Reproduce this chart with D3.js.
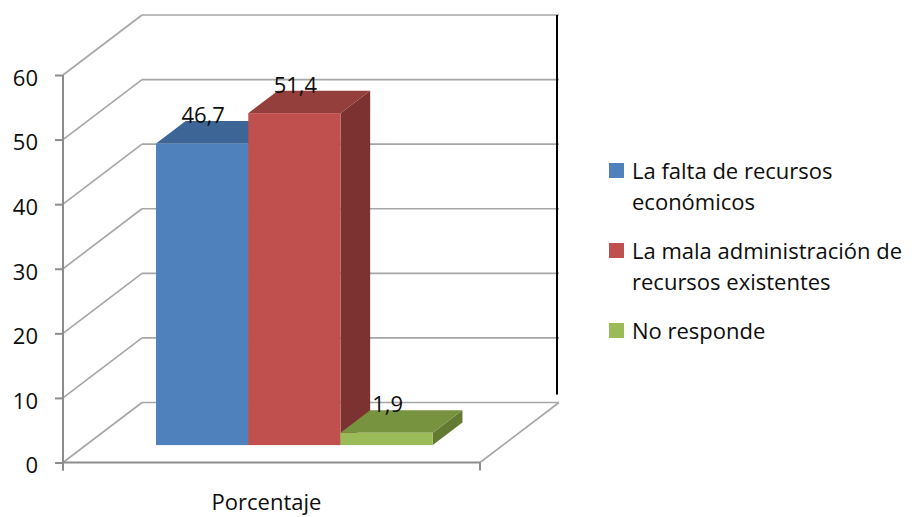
<!DOCTYPE html>
<html><head><meta charset="utf-8">
<script src="https://cdn.jsdelivr.net/npm/d3@7/dist/d3.min.js"></script>
<style>body{margin:0;background:#fff}svg{display:block}text{font-family:"Open Sans",sans-serif}</style>
</head><body><svg id="c" width="916" height="517"></svg>
<script>
const categories = ["Porcentaje"];
const seriesNames = ["La falta de recursos económicos", "La mala administración de recursos existentes", "No responde"];
const values = [46.7, 51.4, 1.9];
const valueLabels = ["46,7", "51,4", "1,9"];
const yTicks = [0, 10, 20, 30, 40, 50, 60];
const legendLines = [["La falta de recursos", "económicos"], ["La mala administración de", "recursos existentes"], ["No responde"]];
const frontColors = ["#4F81BD", "#C0504D", "#9BBB59"];
const topColors = ["#3D6697", "#953F3C", "#78933F"];
const sideColors = ["#335580", "#7B3230", "#637A33"];

const FS = 22, TXT = "#0d0d0d";
const svg = d3.select("#c");
const x0 = 63, x1 = 480;
const D = {x: 79, y: -60};           // floor depth vector
const f1 = 0.29, f2 = 0.665;         // bar depth span (fraction of floor depth)
const y = d3.scaleLinear().domain([0, 60]).range([462.5, 75]);
const xc = d3.scaleBand().domain(categories).range([x0, x1]);
const xs = d3.scaleBand().domain(seriesNames).range([x0, x1]).paddingInner(0).paddingOuter(0.76);

const grid = "#A6A6A6", axisC = "#8C8C8C";
const g = svg.append("g");

// walls gridlines
yTicks.forEach(v => {
  g.append("line").attr("x1", x0).attr("y1", y(v)).attr("x2", x0 + D.x).attr("y2", y(v) + D.y)
    .attr("stroke", grid).attr("stroke-width", 1.6);
  g.append("line").attr("x1", x0 + D.x).attr("y1", y(v) + D.y).attr("x2", x1 + D.x).attr("y2", y(v) + D.y)
    .attr("stroke", grid).attr("stroke-width", 1.6);
});
// floor front and right edges
g.append("line").attr("x1", x0).attr("y1", y(0)).attr("x2", x1).attr("y2", y(0)).attr("stroke", axisC).attr("stroke-width", 2);
g.append("line").attr("x1", x1).attr("y1", y(0)).attr("x2", x1 + D.x).attr("y2", y(0) + D.y).attr("stroke", grid).attr("stroke-width", 1.6);
// black right edge of back wall
g.append("line").attr("x1", x1 + D.x - 2).attr("y1", y(60) + D.y).attr("x2", x1 + D.x - 2).attr("y2", y(0) + D.y - 8)
  .attr("stroke", "#000").attr("stroke-width", 2);

// left axis
const ax = d3.axisLeft(y).tickValues(yTicks).tickSize(8).tickPadding(17).tickSizeOuter(0);
const axG = svg.append("g").attr("transform", `translate(${x0},0)`).call(ax);
axG.select(".domain").remove();
axG.selectAll(".tick line").attr("stroke", axisC).attr("stroke-width", 2);
axG.selectAll(".tick text").attr("font-size", FS).attr("fill", TXT).attr("dy", "0.47em")
  .style("font-family", "'Open Sans',sans-serif");
svg.append("line").attr("x1", x0).attr("x2", x0).attr("y1", y(60)).attr("y2", y(0) + 8).attr("stroke", axisC).attr("stroke-width", 2);
// bottom category ticks
[x0, x1].forEach(px => svg.append("line").attr("x1", px).attr("x2", px).attr("y1", y(0)).attr("y2", y(0) + 8).attr("stroke", axisC).attr("stroke-width", 2));
svg.append("text").attr("x", xc(categories[0]) + xc.bandwidth() / 2 - 5).attr("y", 510).attr("text-anchor", "middle")
  .attr("font-size", FS).attr("fill", TXT).text(categories[0]);

// bars
const bars = svg.append("g");
seriesNames.forEach((s, i) => {
  const fx = xs(s) + f1 * D.x, fyOff = f1 * D.y;
  const w = xs.bandwidth();
  const dx = (f2 - f1) * D.x, dy = (f2 - f1) * D.y;
  const yb = y(0) + fyOff, yt = y(values[i]) + fyOff;
  const pts = a => a.map(p => p.join(",")).join(" ");
  bars.append("polygon").attr("points", pts([[fx + w, yt], [fx + w + dx, yt + dy], [fx + w + dx, yb + dy], [fx + w, yb]])).attr("fill", sideColors[i]);
  bars.append("polygon").attr("points", pts([[fx, yt], [fx + dx, yt + dy], [fx + w + dx, yt + dy], [fx + w, yt]])).attr("fill", topColors[i]);
  bars.append("rect").attr("x", fx).attr("y", yt).attr("width", w).attr("height", yb - yt).attr("fill", frontColors[i]);
});
seriesNames.forEach((s, i) => {
  const fx = xs(s) + f1 * D.x, w = xs.bandwidth();
  const yt = y(values[i]) + f1 * D.y + (f2 - f1) * D.y;
  svg.append("text").attr("x", fx + w / 2 + 1).attr("y", yt + 2).attr("text-anchor", "middle")
    .attr("font-size", FS).attr("fill", TXT).text(valueLabels[i]);
});

// legend
const lg = svg.append("g");
const baseY = [179, 259, 339];
legendLines.forEach((lines, i) => {
  lg.append("rect").attr("x", 609).attr("y", baseY[i] - 16).attr("width", 15).attr("height", 15).attr("fill", frontColors[i]);
  lines.forEach((t, j) => lg.append("text").attr("x", 632).attr("y", baseY[i] + j * 31).attr("font-size", FS).attr("fill", TXT).text(t));
});
</script></body></html>
